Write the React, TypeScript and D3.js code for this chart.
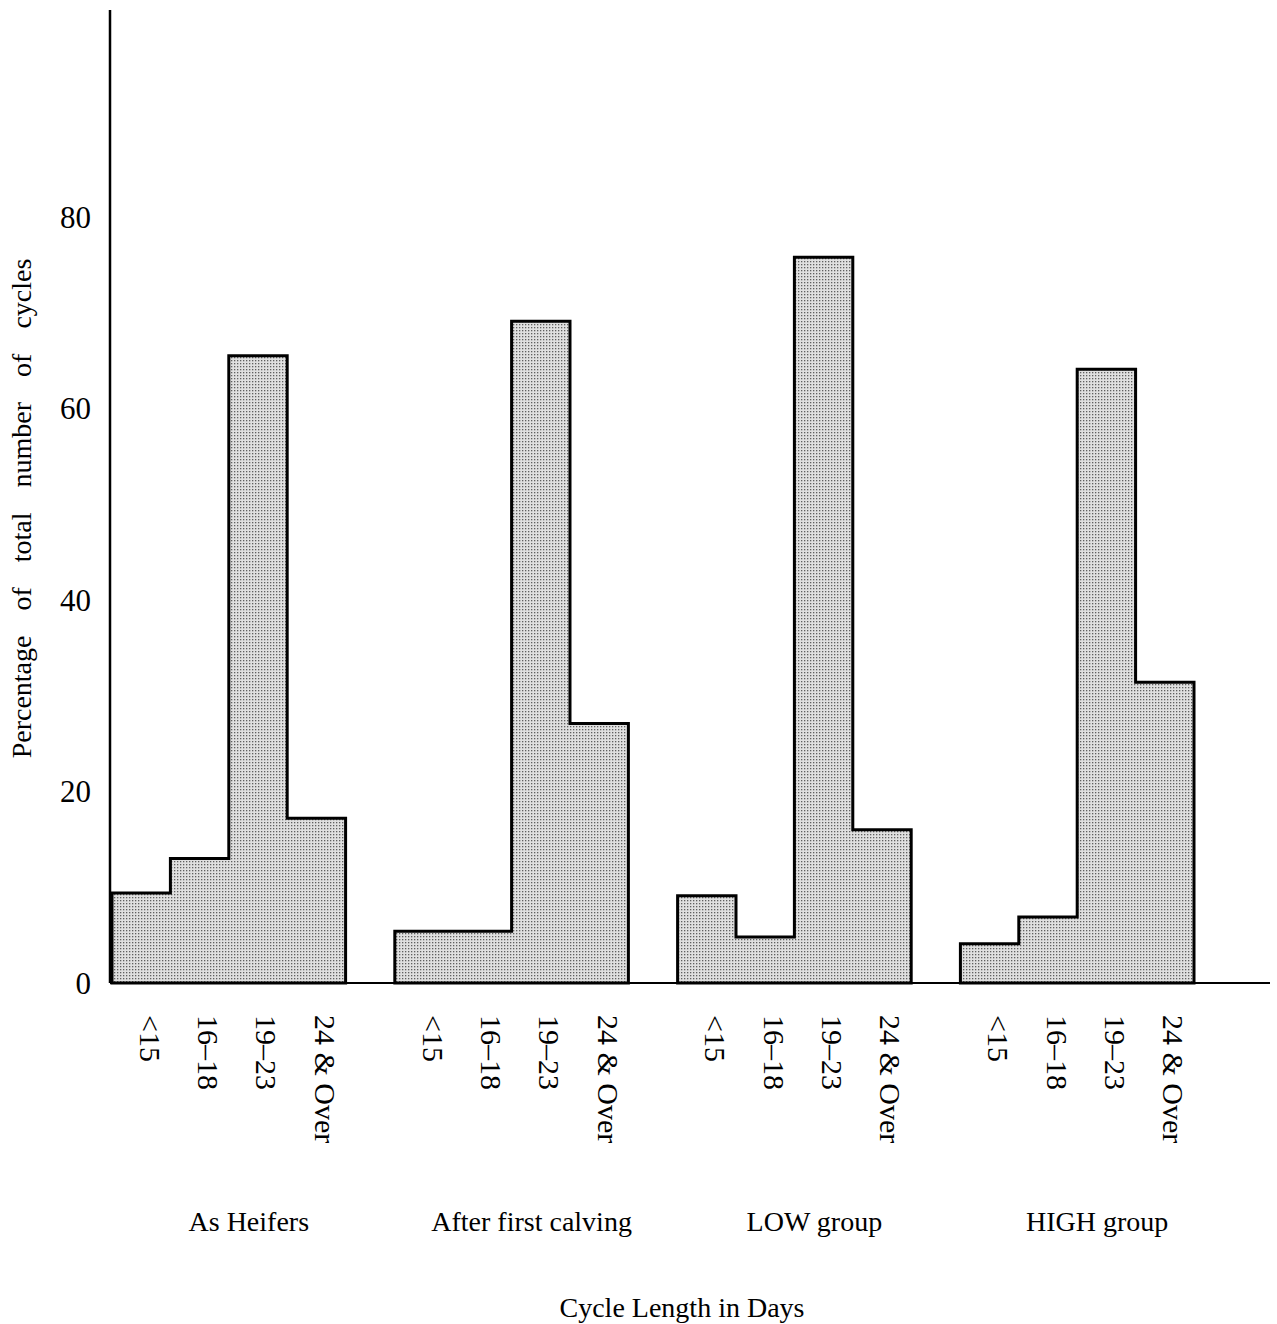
import React from "react";
import * as d3 from "d3";

const groups = ["As Heifers", "After first calving", "LOW group", "HIGH group"];
const cycleClasses = ["<15", "16–18", "19–23", "24 & Over"];
const heifers = [9.4, 13.0, 65.5, 17.2];
const afterCalving = [5.4, 5.4, 69.1, 27.1];
const lowGroup = [9.1, 4.8, 75.8, 16.0];
const highGroup = [4.1, 6.9, 64.1, 31.4];
const seriesValues = [heifers, afterCalving, lowGroup, highGroup];
const yTicks = [0, 20, 40, 60, 80];
const yTitle = "Percentage of total number of cycles";
const xTitle = "Cycle Length in Days";

const W = 1277;
const H = 1324;
const FONT = "'Liberation Serif', 'Times New Roman', serif";

export default function App() {
  const y = d3.scaleLinear().domain([0, 80]).range([983, 217]);
  const xGroup = d3
    .scaleBand<string>()
    .domain(groups)
    .range([112, 1194])
    .paddingInner(0.174)
    .paddingOuter(0);
  const xInner = d3
    .scaleBand<string>()
    .domain(cycleClasses)
    .range([0, xGroup.bandwidth()])
    .padding(0);

  const line = d3.line<[number, number]>();

  const paths = groups.map((g, gi) => {
    const gx = xGroup(g)!;
    const vals = seriesValues[gi];
    const pts: [number, number][] = [[gx, y(0)]];
    cycleClasses.forEach((c, ci) => {
      const x0 = gx + xInner(c)!;
      const x1 = x0 + xInner.bandwidth();
      pts.push([x0, y(vals[ci])]);
      pts.push([x1, y(vals[ci])]);
    });
    pts.push([gx + xGroup.bandwidth(), y(0)]);
    return line(pts)! + "Z";
  });

  return (
    <svg
      width={W}
      height={H}
      style={{ position: "absolute", left: 0, top: 0, background: "#fff" }}
      fontFamily={FONT}
    >
      <defs>
        <pattern id="dots" width="3" height="3" patternUnits="userSpaceOnUse">
          <rect width="3" height="3" fill="#e0e0e0" />
          <rect x="0" y="0" width="1.3" height="1.3" fill="#606060" />
        </pattern>
      </defs>

      {paths.map((d, i) => (
        <path key={i} d={d} fill="url(#dots)" stroke="#000" strokeWidth={3} strokeLinejoin="miter" />
      ))}

      <line x1={110} x2={1270} y1={y(0)} y2={y(0)} stroke="#000" strokeWidth={2} />
      <line x1={110} x2={110} y1={10} y2={y(0)} stroke="#000" strokeWidth={2.5} />

      {yTicks.map((t) => (
        <text
          key={t}
          x={91}
          y={y(t)}
          textAnchor="end"
          dominantBaseline="central"
          fontSize={31}
          fill="#000"
        >
          {t}
        </text>
      ))}

      <text
        transform={`translate(31, ${(255 + 762) / 2}) rotate(-90)`}
        textAnchor="middle"
        fontSize={28}
        wordSpacing={18}
        fill="#000"
      >
        {yTitle}
      </text>

      {groups.map((g) =>
        cycleClasses.map((c) => {
          const cx = xGroup(g)! + xInner(c)! + xInner.bandwidth() / 2 + 9;
          return (
            <text
              key={g + c}
              transform={`translate(${cx}, 1015) rotate(90)`}
              textAnchor="start"
              dominantBaseline="central"
              fontSize={30}
              fill="#000"
            >
              {c}
            </text>
          );
        })
      )}

      {groups.map((g) => (
        <text
          key={g}
          x={xGroup(g)! + xGroup.bandwidth() / 2 + 20}
          y={1231}
          textAnchor="middle"
          fontSize={28}
          fill="#000"
        >
          {g}
        </text>
      ))}

      <text x={682} y={1317} textAnchor="middle" fontSize={28} fill="#000">
        {xTitle}
      </text>
    </svg>
  );
}
